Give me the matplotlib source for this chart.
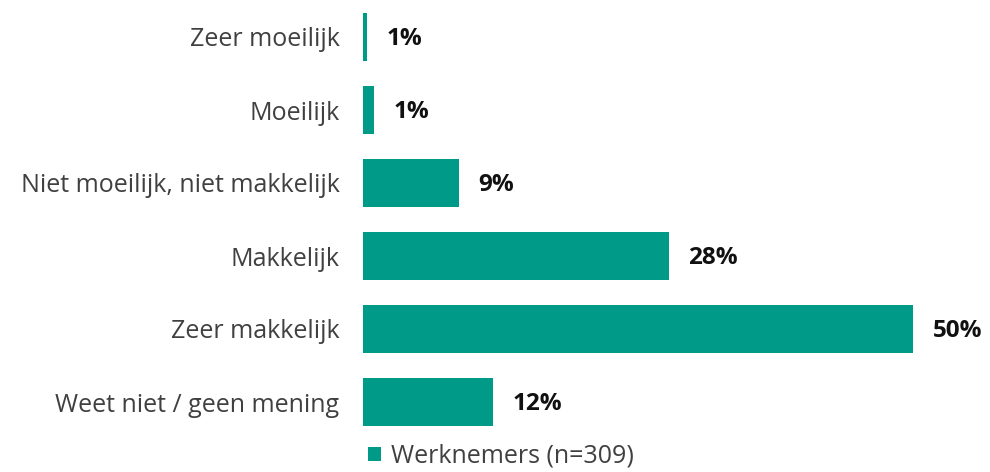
import matplotlib.pyplot as plt

categories = ['Zeer moeilijk', 'Moeilijk', 'Niet moeilijk, niet makkelijk',
              'Makkelijk', 'Zeer makkelijk', 'Weet niet / geen mening']
values = [0.4, 1.0, 8.7, 27.8, 50.0, 11.8]
labels = ['1%', '1%', '9%', '28%', '50%', '12%']
series_name = 'Werknemers (n=309)'

teal = '#009A88'
plt.rcParams['font.family'] = ['Open Sans', 'DejaVu Sans']

fig = plt.figure(figsize=(9.9, 4.72), dpi=100)
ax = fig.add_axes([363 / 990, 1 - 438.5 / 472, 550 / 990, 438 / 472])

y = list(range(len(categories)))
ax.barh(y, values, height=0.67, color=teal, label=series_name)
ax.set_ylim(len(categories) - 0.5, -0.5)
ax.set_xlim(0, 50)

ax.set_yticks(y)
ax.set_yticklabels(categories, fontsize=18, color='#404040')
ax.tick_params(axis='y', length=0, pad=17)
ax.set_xticks([])
for s in ax.spines.values():
    s.set_visible(False)

for yi, v, lab in zip(y, values, labels):
    ax.annotate(lab, (v, yi), xytext=(14, -1.5), textcoords='offset points',
                va='center', ha='left', fontsize=17.5, fontweight='bold',
                color='#111111', annotation_clip=False)

fig.legend(loc='center', bbox_to_anchor=(501 / 990, 1 - 456 / 472),
           frameon=False, fontsize=18, handlelength=0.5, handleheight=0.5,
           handletextpad=0.4, labelcolor='#404040')

fig.savefig('out.png', dpi=100)
